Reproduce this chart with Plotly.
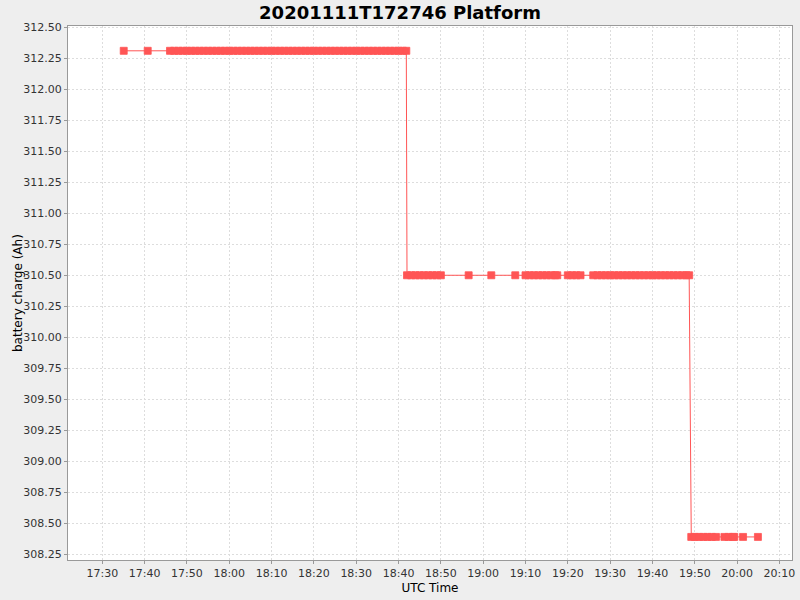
import plotly.graph_objects as go

DAY = "2020-11-11 "

# battery charge levels (Ah)
top_level = 312.31
mid_level = 310.50
low_level = 308.39

# sample times at each level
top_times = [
    "17:35:04", "17:40:44",
    "17:46", "17:47", "17:48", "17:49", "17:50", "17:51", "17:52", "17:53",
    "17:54", "17:55", "17:56", "17:57", "17:58", "17:59", "18:00", "18:01",
    "18:02", "18:03", "18:04", "18:05", "18:06", "18:07", "18:08", "18:09",
    "18:10", "18:11", "18:12", "18:13", "18:14", "18:15", "18:16", "18:17",
    "18:18", "18:19", "18:20", "18:21", "18:22", "18:23", "18:24", "18:25",
    "18:26", "18:27", "18:28", "18:29", "18:30", "18:31", "18:32", "18:33",
    "18:34", "18:35", "18:36", "18:37", "18:38", "18:39", "18:40", "18:41",
    "18:41:50",
]
mid_times = [
    "18:42", "18:43", "18:44", "18:45", "18:46", "18:47", "18:48", "18:49", "18:50",
    "18:56:34", "19:01:55", "19:07:35",
    "19:10", "19:11", "19:12", "19:13", "19:14", "19:15", "19:16", "19:17", "19:17:30",
    "19:20", "19:21", "19:22", "19:23",
    "19:26", "19:27", "19:28", "19:29", "19:30", "19:31", "19:32", "19:33",
    "19:34", "19:35", "19:36", "19:37", "19:38", "19:39", "19:40", "19:41",
    "19:42", "19:43", "19:44", "19:45", "19:46", "19:47", "19:48", "19:48:40",
]
low_times = [
    "19:49:10", "19:50", "19:51", "19:52", "19:53", "19:54", "19:55",
    "19:57", "19:58", "19:59", "19:59:20",
    "20:01:24", "20:04:55",
]

x = [DAY + t for t in top_times + mid_times + low_times]
y = ([top_level] * len(top_times) + [mid_level] * len(mid_times)
     + [low_level] * len(low_times))

y_ticks = [308.25, 308.50, 308.75, 309.00, 309.25, 309.50, 309.75, 310.00,
           310.25, 310.50, 310.75, 311.00, 311.25, 311.50, 311.75, 312.00,
           312.25, 312.50]

fig = go.Figure()
fig.add_trace(go.Scatter(
    x=x, y=y, mode="lines+markers",
    line=dict(color="#FF5555", width=1),
    marker=dict(symbol="square", size=7, color="#FF5555",
                line=dict(width=0.8, color="#FF5555")),
    showlegend=False,
))

font = "DejaVu Sans"
axis_common = dict(
    automargin=False,
    showline=True, linecolor="#999999", linewidth=1, mirror=True,
    ticks="outside", ticklen=3, tickcolor="#999999",
    showgrid=True, gridcolor="#DDDDDD", griddash="2px,2px", gridwidth=1,
    zeroline=False,
    tickfont=dict(family=font, size=11, color="#333333"),
)

fig.update_xaxes(
    type="date",
    range=[DAY + "17:21:54", DAY + "20:12:58"],
    dtick=10 * 60 * 1000, tick0=DAY + "17:30",
    tickformat="%H:%M",
    title=dict(text="UTC Time", font=dict(family=font, size=12, color="#000000"),
               standoff=4),
    **axis_common,
)
fig.update_yaxes(
    range=[308.204, 312.51],
    tickvals=y_ticks,
    ticktext=[f"{v:.2f}" for v in y_ticks],
    **axis_common,
)

# y-axis title placed by hand, closer to the tick labels than plotly allows
fig.add_annotation(
    text="battery charge (Ah)", textangle=-90,
    xref="paper", yref="paper", x=-0.069, y=0.5,
    xanchor="center", yanchor="middle", showarrow=False,
    font=dict(family=font, size=12, color="#000000"),
)

fig.update_layout(
    width=800, height=600,
    paper_bgcolor="#EEEEEE", plot_bgcolor="#FFFFFF",
    margin=dict(l=68, r=8, t=26, b=40),
    title=dict(text="<b>20201111T172746 Platform</b>", x=0.5, xanchor="center",
               y=0.99, yanchor="top",
               font=dict(family=font, size=18, color="#000000")),
)

fig.write_html("out.html", config={"displayModeBar": False},
               post_script="document.body.style.margin = '0';")
